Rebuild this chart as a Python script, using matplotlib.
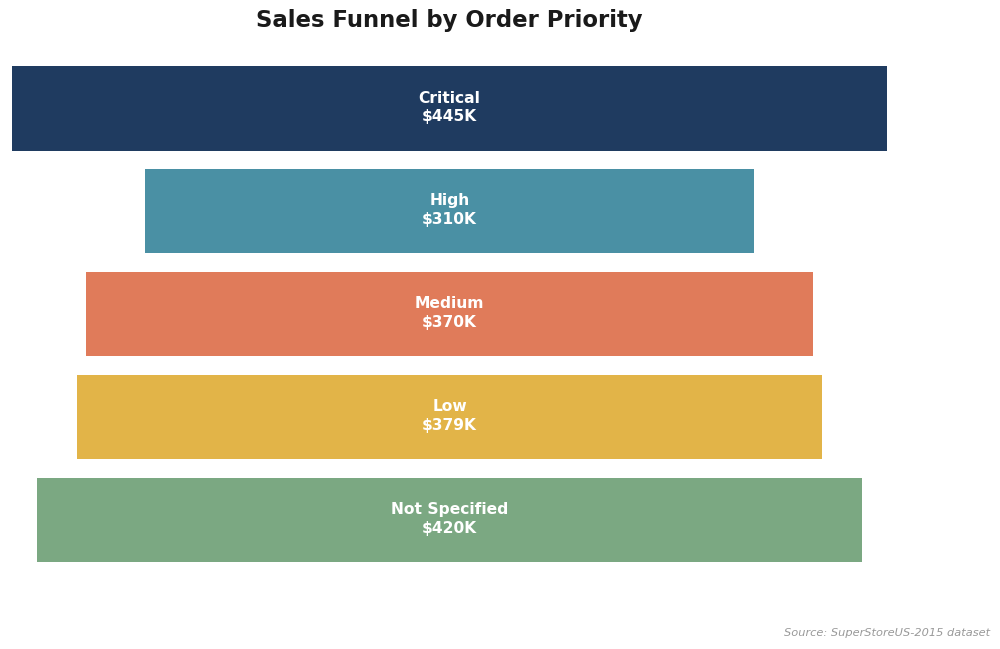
import matplotlib
matplotlib.use('Agg')
import matplotlib.pyplot as plt
import numpy as np

# data
stages = ["Critical", "High", "Medium", "Low", "Not Specified"]
sales_k = [445, 310, 370, 379, 420]
colors = ["#1f3b60", "#4a90a4", "#e07b5a", "#e2b448", "#7ba882"]

fig = plt.figure(figsize=(10, 6.49), dpi=100)
ax = fig.add_axes([0.012, 0.134, 0.875, 0.764])

vals = np.array(sales_k)
top = vals.max()
y = np.arange(len(stages))
ax.barh(y, vals, left=(top - vals) / 2, height=0.82, color=colors)

for yi, name, v in zip(y, stages, vals):
    ax.text(top / 2, yi - 0.01, f"{name}\n${v}K", ha="center", va="center",
            color="white", fontsize=11.2, fontweight="bold", linespacing=1.3)

ax.set_xlim(0, top)
ax.set_ylim(len(stages) - 1 + 0.41, -0.41)
ax.axis("off")

fig.text(0.4495, 0.968, "Sales Funnel by Order Priority", ha="center", va="center",
         fontsize=16.4, fontweight="bold", color="#1a1a1a")
fig.text(0.99, 0.025, "Source: SuperStoreUS-2015 dataset", ha="right", va="center",
         fontsize=8.2, style="italic", color="#999999")

plt.savefig("out.png", dpi=100)
